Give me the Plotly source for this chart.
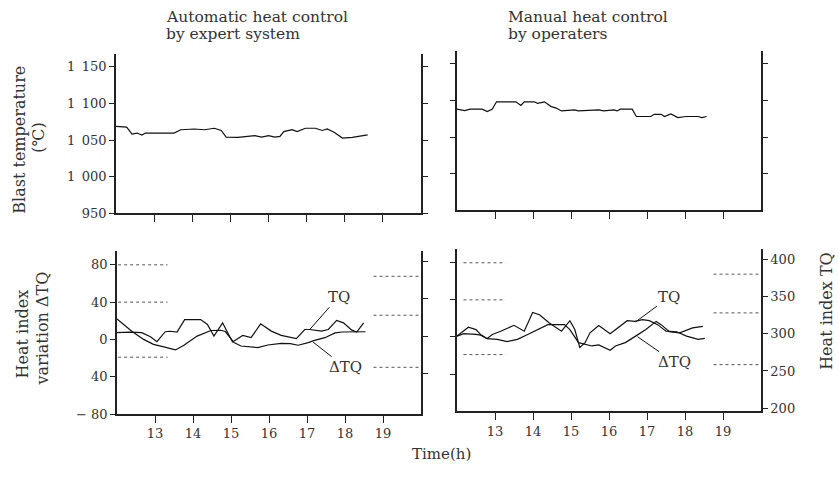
import plotly.graph_objects as go

# blast temperature, automatic control (expert system)
auto_time = [12.0, 12.28, 12.42, 12.55, 12.68, 12.77, 13.52, 13.70, 14.05, 14.32, 14.58, 14.76,
             14.89, 15.2, 15.64, 15.82, 16.0, 16.17, 16.3, 16.4, 16.62, 16.75, 16.97, 17.23,
             17.41, 17.54, 17.72, 17.94, 18.2, 18.43, 18.6]
auto_temp = [1068.5, 1067.6, 1058, 1059.5, 1056.8, 1059.5, 1059.5, 1064, 1065, 1064, 1066, 1063,
             1054, 1053.5, 1056, 1054, 1056, 1054, 1055, 1061.5, 1064, 1061.5, 1066, 1066,
             1063, 1065, 1060.5, 1052.7, 1053.5, 1055, 1057]

# blast temperature, manual control (operators)
man_time = [12.0, 12.2, 12.35, 12.66, 12.8, 12.93, 13.04, 13.37, 13.46, 13.55, 13.68, 13.77,
            14.03, 14.12, 14.3, 14.48, 14.61, 14.75, 15.1, 15.19, 15.73, 15.86, 16.13, 16.21,
            16.3, 16.61, 16.72, 17.1, 17.19, 17.37, 17.46, 17.63, 17.81, 18.03, 18.35, 18.44, 18.57]
man_temp = [1088, 1086, 1088, 1088, 1084.7, 1088, 1098, 1098, 1097, 1098, 1093, 1098,
            1098, 1096, 1098, 1091.5, 1089.5, 1085.6, 1087, 1085.6, 1087, 1085.6, 1087, 1085.6,
            1088, 1088, 1078, 1078, 1081, 1081, 1078, 1081.5, 1076.6, 1078, 1078, 1076.6, 1078]

# heat index variation dTQ and heat index TQ, automatic
auto_dtq_time = [12.0, 12.17, 12.39, 12.7, 12.96, 13.23, 13.54, 13.76, 14.11, 14.47, 14.73, 14.85,
                 15.08, 15.26, 15.7, 15.97, 16.32, 16.56, 16.77, 17.03, 17.2, 17.47, 17.74,
                 17.92, 18.27, 18.54]
auto_dtq = [21.9, 15.9, 8.8, 0.1, -5.2, -8, -11.2, -6.2, 3.6, 9.6, 9.9, 8.5,
            -3.4, -7, -8.7, -5.9, -4.1, -4.5, -6.2, -3.4, -1, 1.9, 7.1,
            8, 7.8, 8.3]
auto_tq_time = [12.0, 12.34, 12.65, 12.88, 13.05, 13.27, 13.4, 13.58, 13.78, 14.2, 14.38, 14.55,
                14.78, 15.04, 15.31, 15.53, 15.78, 16.06, 16.32, 16.72, 16.94, 17.07, 17.38,
                17.56, 17.78, 17.96, 18.18, 18.31, 18.49]
auto_tq = [304.7, 305.5, 304.7, 299.4, 292.8, 306, 306.6, 305.5, 322.2, 322.2, 315.6, 300.2,
           317.8, 292.3, 301.1, 298.1, 316.5, 306.8, 301.1, 296.8, 309, 309, 306.8,
           309, 321.2, 317.8, 308.1, 305.5, 317.8]

# heat index variation dTQ and heat index TQ, manual
man_dtq_time = [12.0, 12.18, 12.5, 12.66, 12.79, 13.06, 13.32, 13.59, 13.86, 14.21, 14.39, 14.83,
                14.97, 15.2, 15.55, 15.73, 16.03, 16.17, 16.43, 16.7, 16.97, 17.24, 17.37,
                17.59, 17.86, 18.2, 18.47]
man_dtq = [0.9, 3.5, 2.7, 1.7, -1.8, -2.6, -5, -2.6, 2.7, 9.8, 13.3, 13.3,
           8, -6.1, -9.7, -8.6, -14.3, -9.7, -6.1, 0.9, 8, 16.8, 13.3,
           5.6, 4.5, 9.8, 11.5]
man_tq_time = [12.0, 12.3, 12.5, 12.66, 12.79, 12.93, 13.15, 13.5, 13.77, 13.99, 14.17, 14.43,
               14.75, 14.97, 15.1, 15.23, 15.37, 15.5, 15.73, 16.03, 16.48, 16.68, 16.88,
               17.06, 17.28, 17.5, 17.78, 18.04, 18.35, 18.52]
man_tq = [296.8, 308.7, 305.6, 296.8, 293.4, 299, 303.4, 311.3, 303.4, 328.5, 325.5, 314.5,
          303.4, 317.5, 305.6, 281.5, 288, 301.3, 311, 300, 317.5, 316.6, 318.9,
          317.5, 312.2, 303.4, 302.6, 296.8, 292.4, 293.8]

# dotted guide segments
guide_left_auto = [12.03, 13.33]
guide_left_man = [12.17, 13.28]
guide_right = [18.75, 20.0]
guide_dtq_levels = [80, 40, -19]
guide_tq_levels = [380, 328, 258.5]

hours = [13, 14, 15, 16, 17, 18, 19]
temp_ticks = [950, 1000, 1050, 1100, 1150]
temp_labels = ['950', '1\u2002000', '1\u2002050', '1\u2002100', '1\u2002150']
dtq_ticks = [-80, -40, 0, 40, 80]
dtq_labels = ['\u2212 80', '40', '0', '40', '80']
tq_ticks = [200, 250, 300, 350, 400]

FONT = 'DejaVu Serif'
INK = '#222222'
TXT = '#333333'
line_style = dict(color='#111111', width=1.2)

fig = go.Figure()
fig.add_scatter(x=auto_time, y=auto_temp, xaxis='x', yaxis='y', mode='lines', line=line_style)
fig.add_scatter(x=man_time, y=man_temp, xaxis='x2', yaxis='y2', mode='lines', line=line_style)
fig.add_scatter(x=auto_dtq_time, y=auto_dtq, xaxis='x3', yaxis='y3', mode='lines', line=line_style)
fig.add_scatter(x=auto_tq_time, y=auto_tq, xaxis='x3', yaxis='y5', mode='lines', line=line_style)
fig.add_scatter(x=man_dtq_time, y=man_dtq, xaxis='x4', yaxis='y4', mode='lines', line=line_style)
fig.add_scatter(x=man_tq_time, y=man_tq, xaxis='x4', yaxis='y6', mode='lines', line=line_style)

dot = dict(color='#555555', width=1, dash='dot')
for lv in guide_dtq_levels:
    fig.add_scatter(x=guide_left_auto, y=[lv, lv], xaxis='x3', yaxis='y3', mode='lines', line=dot)
    fig.add_scatter(x=guide_left_man, y=[lv, lv], xaxis='x4', yaxis='y4', mode='lines', line=dot)
for lv in guide_tq_levels:
    fig.add_scatter(x=guide_right, y=[lv, lv], xaxis='x3', yaxis='y5', mode='lines', line=dot)
    fig.add_scatter(x=guide_right, y=[lv, lv], xaxis='x4', yaxis='y6', mode='lines', line=dot)

tickfont = dict(family=FONT, size=13, color=TXT)


def xax(dom, anchor, labels):
    return dict(domain=dom, anchor=anchor, range=[12, 20], showgrid=False, zeroline=False,
                showline=True, linecolor=INK, linewidth=1.5, ticks='outside',
                ticklen=7, tickwidth=1.2, tickcolor=INK, tickvals=hours,
                showticklabels=labels, tickfont=tickfont)


def yax(dom, anchor, rng, vals, text, mirror=False):
    return dict(domain=dom, anchor=anchor, range=rng, showgrid=False, zeroline=False,
                showline=True, linecolor=INK, linewidth=1.5, ticks='outside',
                ticklen=5, tickwidth=1.2, tickcolor=INK, tickvals=vals, ticktext=text,
                tickfont=tickfont, mirror=mirror)


xl = [116 / 838, 421 / 838]
xr = [457 / 838, 761 / 838]
xbl = [117 / 838, 421 / 838]

fig.update_layout(
    width=838, height=489, margin=dict(l=0, r=0, t=0, b=0),
    plot_bgcolor='white', paper_bgcolor='white', showlegend=False, hovermode=False,
    xaxis=xax(xl, 'y', False),
    xaxis2=xax(xr, 'y2', False),
    xaxis3=xax(xbl, 'y3', True),
    xaxis4=xax(xr, 'y4', True),
    yaxis=yax([1 - 217 / 489, 1 - 55 / 489], 'x', [950, 1167], temp_ticks, temp_labels, 'ticks'),
    yaxis2=yax([1 - 214 / 489, 1 - 52 / 489], 'x2', [950, 1167], temp_ticks[1:], ['', '', '', ''], 'ticks'),
    yaxis3=yax([1 - 421 / 489, 1 - 255 / 489], 'x3', [-80, 95], dtq_ticks, dtq_labels),
    yaxis4=yax([1 - 418 / 489, 1 - 253 / 489], 'x4', [-80, 95], dtq_ticks[1:], ['', '', '', '']),
)
fig.layout.yaxis5 = dict(yax([1 - 421 / 489, 1 - 255 / 489], 'x3', [196, 414], tq_ticks[1:],
                             ['', '', '', '']), overlaying='y3', side='right')
fig.layout.yaxis6 = dict(yax([1 - 418 / 489, 1 - 253 / 489], 'x4', [196, 414], tq_ticks,
                             [str(v) for v in tq_ticks]), overlaying='y4', side='right')


def note(x, y, text, size=15.5, angle=0, xanchor='center'):
    fig.add_annotation(x=x / 838, y=1 - y / 489, xref='paper', yref='paper', text=text,
                       showarrow=False, textangle=angle, xanchor=xanchor, yanchor='middle',
                       font=dict(family=FONT, size=size, color=TXT))


note(164, 17, 'Automatic heat control', xanchor='left')
note(164, 35, 'by expert system', xanchor='left')
note(506, 17, 'Manual heat control', xanchor='left')
note(506, 35, 'by operaters', xanchor='left')
note(20, 142, 'Blast temperature', size=16, angle=-90)
note(39, 140, '(℃)', size=16, angle=-90)
note(22, 340, 'Heat index', size=16, angle=-90)
note(43, 334, 'variation ΔTQ', size=16, angle=-90)
note(827, 316, 'Heat index TQ', size=16, angle=-90)
note(442, 462, 'Time(h)', size=15)


def pointer(xa, ya, tip, label):
    fig.add_annotation(x=tip[0], y=tip[1], ax=label[0], ay=label[1], xref=xa, yref=ya,
                       axref=xa, ayref=ya, text=label[2], showarrow=True, arrowhead=0,
                       arrowwidth=1, arrowcolor='#111111', standoff=0,
                       font=dict(family=FONT, size=15, color=TXT))


pointer('x3', 'y3', (17.07, 10.6), (17.83, 45.7, 'TQ'))
pointer('x3', 'y3', (17.16, -2.8), (18.0, -29.7, 'ΔTQ'))
pointer('x4', 'y4', (16.7, 16.2), (17.59, 43.3, 'TQ'))
pointer('x4', 'y4', (16.75, 0.3), (17.72, -27.3, 'ΔTQ'))

fig.write_html('out.html', config={'displayModeBar': False},
               post_script="document.body.style.margin='0';")
